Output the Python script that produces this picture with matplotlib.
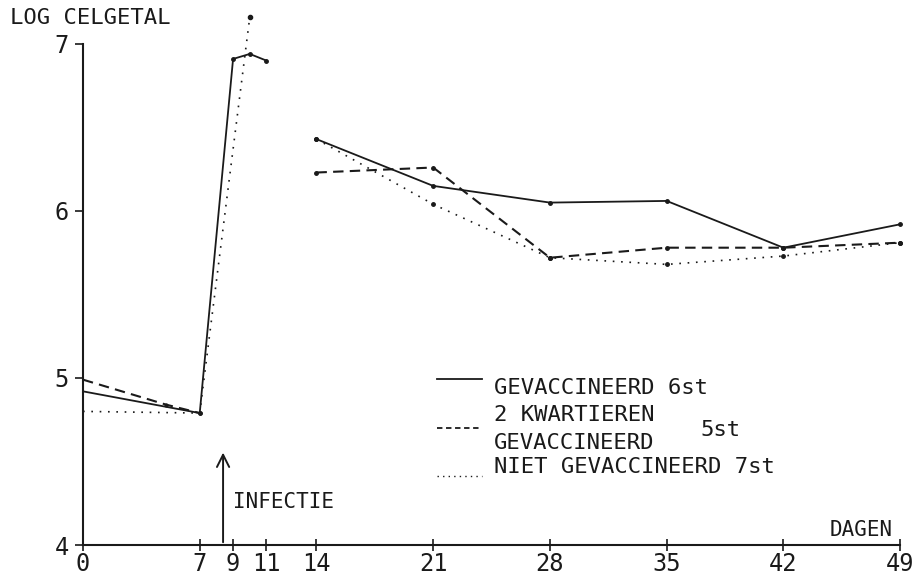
import numpy as np
import matplotlib
matplotlib.use('Agg')
import matplotlib.pyplot as plt
from matplotlib.lines import Line2D

plt.rcParams['font.family'] = ['DejaVu Sans Mono']

# log celgetal per dag, drie groepen
dag_vroeg_a = [0, 7, 9, 10, 11]
gevacc_vroeg = [4.92, 4.79, 6.91, 6.94, 6.90]
dag_vroeg_b = [0, 5, 7]
kwart_vroeg = [4.99, 4.84, 4.79]
dag_vroeg_c = [0, 7, 10]
niet_vroeg = [4.80, 4.79, 7.16]

dag_laat = [14, 21, 28, 35, 42, 49]
gevacc_laat = [6.43, 6.15, 6.05, 6.06, 5.78, 5.92]
kwart_laat = [6.23, 6.26, 5.72, 5.78, 5.78, 5.81]
niet_laat = [6.43, 6.04, 5.72, 5.68, 5.73, 5.81]

x_ticks = [0, 7, 9, 11, 14, 21, 28, 35, 42, 49]
y_ticks = [4, 5, 6, 7]

kleur = '#1a1a1a'
stijl_streep = (0, (5, 3))
stijl_punt = (0, (1, 4))

#%%
fig = plt.figure(figsize=(9.13, 5.8), dpi=100)
ax = fig.add_axes([0.0909, 0.0603, 0.895, 0.864])

# doorgetrokken: gevaccineerd
ax.plot(dag_vroeg_a, gevacc_vroeg, '-', color=kleur, lw=1.3, marker='o', ms=2.5,
        markevery=[1, 2, 3, 4], clip_on=False)
ax.plot(dag_laat, gevacc_laat, '-', color=kleur, lw=1.3, marker='o', ms=2.5, clip_on=False)
# gestreept: 2 kwartieren gevaccineerd
ax.plot(dag_vroeg_b, kwart_vroeg, color=kleur, lw=1.5, ls=stijl_streep, marker='o', ms=2.0,
        markevery=[1, 2], clip_on=False)
ax.plot(dag_laat, kwart_laat, color=kleur, lw=1.5, ls=stijl_streep, marker='o', ms=2.5, clip_on=False)
# gestippeld: niet gevaccineerd
ax.plot(dag_vroeg_c, niet_vroeg, color=kleur, lw=1.2, ls=stijl_punt, clip_on=False)
ax.plot(dag_vroeg_c[-1:], niet_vroeg[-1:], 'o', color=kleur, ms=3, clip_on=False)
ax.plot(dag_laat, niet_laat, color=kleur, lw=1.2, ls=stijl_punt, marker='o', ms=2.5, clip_on=False)

ax.set_xlim(0, 49)
ax.set_ylim(4, 7)
ax.set_xticks(x_ticks)
ax.set_yticks(y_ticks)
ax.tick_params(axis='both', labelsize=17, color=kleur, labelcolor=kleur, width=1.2)
ax.tick_params(axis='x', direction='inout', length=8, pad=1)
ax.tick_params(axis='y', direction='out', length=6, pad=4)
for s in ['top', 'right']:
    ax.spines[s].set_visible(False)
for s in ['left', 'bottom']:
    ax.spines[s].set_color(kleur)
    ax.spines[s].set_linewidth(1.5)

# infectie pijl
ax.annotate('', xy=(8.4, 4.57), xytext=(8.4, 4.0),
            arrowprops=dict(arrowstyle='->', color=kleur, lw=1.4, mutation_scale=22))
ax.text(9.0, 4.26, 'INFECTIE', fontsize=15, color=kleur, va='center', ha='left')

fig.text(0.011, 1 - 18 / 580, 'LOG CELGETAL', fontsize=16, color=kleur, va='center', ha='left')
fig.text(0.978, 0.086, 'DAGEN', fontsize=15, color=kleur, va='center', ha='right')

# legenda met de hand
lx0, lx1 = 437 / 913, 482 / 913
tx = 494 / 913
def fy(py):
    return 1 - py / 580

fig.add_artist(Line2D([lx0, lx1], [fy(379), fy(379)], color=kleur, lw=1.3))
fig.text(tx, fy(388), 'GEVACCINEERD 6st', fontsize=16, color=kleur, va='center')
fig.add_artist(Line2D([lx0, lx1], [fy(428), fy(428)], color=kleur, lw=1.3, ls=(0, (3, 2))))
fig.text(tx, fy(415), '2 KWARTIEREN', fontsize=16, color=kleur, va='center')
fig.text(tx, fy(443), 'GEVACCINEERD', fontsize=16, color=kleur, va='center')
fig.text(700 / 913, fy(430), '5st', fontsize=16, color=kleur, va='center')
fig.add_artist(Line2D([lx0, lx1], [fy(476), fy(476)], color=kleur, lw=1.0, ls=(0, (1, 3))))
fig.text(tx, fy(467), 'NIET GEVACCINEERD 7st', fontsize=16, color=kleur, va='center')

fig.savefig('out.png', dpi=100)
